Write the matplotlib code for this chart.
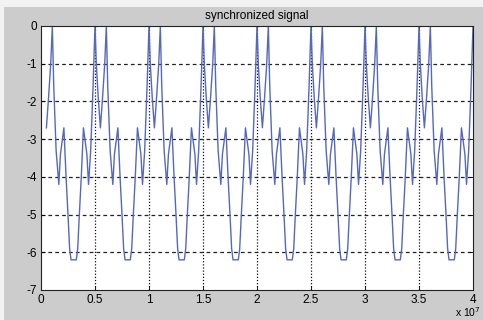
import numpy as np
import matplotlib
matplotlib.use('Agg')
import matplotlib.pyplot as plt
from matplotlib.ticker import FuncFormatter
from matplotlib.patches import Rectangle

# one period of the synchronized signal
# (offset from the first peak, in units of 1e7, and value)
period_off = [0.000, 0.012, 0.030, 0.050, 0.070, 0.090, 0.105,
              0.118, 0.140, 0.165, 0.180, 0.212, 0.232, 0.250, 0.265, 0.278,
              0.327, 0.340, 0.355, 0.373, 0.393, 0.425, 0.440, 0.460, 0.482]
period_val = [0.0, -1.0, -1.9, -2.7, -1.9, -1.0, 0.0,
              -1.6, -3.3, -4.2, -3.4, -2.7, -4.0, -5.0, -5.9, -6.2,
              -6.2, -5.9, -5.0, -4.0, -2.7, -3.4, -4.2, -3.3, -1.6]
period_len = 0.5
n_periods = 8
start_off = 0.055     # trace starts at the first valley
end_x = 4.0
x_ticks = [0, 0.5, 1, 1.5, 2, 2.5, 3, 3.5, 4]
y_ticks = [0, -1, -2, -3, -4, -5, -6, -7]

xs, ys = [], []
for k in range(n_periods):
    for o, v in zip(period_off, period_val):
        if k == 0 and o < start_off - 0.01:
            continue
        xs.append(k * period_len + o)
        ys.append(v)
xs.append(end_x)
ys.append(0.0)
xs = np.array(xs) * 1e7
ys = np.array(ys)

fig = plt.figure(figsize=(4.83, 3.2), dpi=100)
fig.patch.set_facecolor('#cccccc')
# light strips at the top and left edge of the window grab
fig.patches.append(Rectangle((0, 1 - 7 / 320), 1, 7 / 320, transform=fig.transFigure,
                             facecolor='#f2f2f2', edgecolor='none', zorder=-1))
fig.patches.append(Rectangle((0, 0), 4 / 483, 1, transform=fig.transFigure,
                             facecolor='#f2f2f2', edgecolor='none', zorder=-1))

ax = fig.add_axes([41 / 483, 30 / 320, 432 / 483, 264 / 320])
ax.set_facecolor('white')
ax.plot(xs, ys, color='#5668bd', lw=1.0)

ax.set_xlim(0, 4e7)
ax.set_ylim(-7, 0)
ax.set_xticks([t * 1e7 for t in x_ticks])
ax.set_yticks(y_ticks)
ax.xaxis.set_major_formatter(FuncFormatter(lambda v, p: '%g' % (v / 1e7)))
ax.yaxis.set_major_formatter(FuncFormatter(lambda v, p: '%g' % v))

for xt in x_ticks[1:-1]:
    ax.axvline(xt * 1e7, color='#111111', lw=0.9, ls=(0, (1, 1.5)), zorder=0)
for yt in y_ticks[1:-1]:
    ax.axhline(yt, color='#222222', lw=0.9, ls=(0, (3, 2.5)), zorder=0)

ax.tick_params(direction='in', length=3, width=0.6, labelsize=8.5, pad=3,
               top=True, right=True, colors='black')
for lab in ax.get_xticklabels() + ax.get_yticklabels():
    lab.set_family('Liberation Sans')
for s in ax.spines.values():
    s.set_linewidth(0.8)
    s.set_color('#222222')

ax.set_title('synchronized signal', fontsize=8.5, family='Liberation Sans', pad=5)
fig.text(481 / 483, 0.002, 'x 10$^{7}$', ha='right', va='bottom', fontsize=7.5,
         family='Liberation Sans')

fig.savefig('out.png', dpi=100, facecolor=fig.get_facecolor())
